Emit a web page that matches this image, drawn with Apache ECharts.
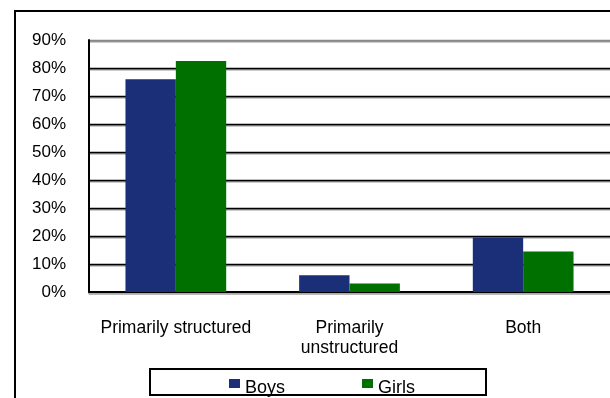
<!DOCTYPE html>
<html>
<head>
    <meta charset="utf-8">
    <title>Structured vs unstructured</title>
    <script src="https://cdn.jsdelivr.net/npm/echarts@6/dist/echarts.min.js"></script>
    <style>
        html, body { margin: 0; padding: 0; background: #fff; }
        #container { width: 610px; height: 398px; }
    </style>
</head>
<body>
<div id="container"></div>
<script>
    var categories = ['Primarily structured', 'Primarily\nunstructured', 'Both'];
    var boys = [76, 6, 19.5];
    var girls = [82.5, 3, 14.5];
    var yTicks = [0, 10, 20, 30, 40, 50, 60, 70, 80, 90];

    var font = '"Liberation Sans", Arial, sans-serif';
    // grid lines black, the top one grey
    var gridColors = yTicks.map(function (v, i) {
        return i === yTicks.length - 1 ? '#888888' : '#000000';
    });

    var myChart = echarts.init(document.getElementById('container'));
    var option = {
        animation: false,
        textStyle: { fontFamily: font, color: '#000' },
        graphic: [
            {
                type: 'rect',
                shape: { x: 15, y: 11, width: 700, height: 500 },
                style: { fill: 'none', stroke: '#000', lineWidth: 2 },
                silent: true
            },
            {
                type: 'rect',
                shape: { x: 150, y: 369, width: 336, height: 26 },
                style: { fill: 'none', stroke: '#000', lineWidth: 2 },
                silent: true
            }
        ],
        legend: {
            left: 229,
            top: 379,
            padding: 0,
            itemWidth: 11,
            itemHeight: 9,
            itemGap: 77,
            icon: 'rect',
            formatter: '{t|{name}}',
            textStyle: {
                fontFamily: font, fontSize: 18, color: '#000',
                rich: { t: { fontFamily: font, fontSize: 18, color: '#000', padding: [9, 0, 0, 0] } }
            },
            data: ['Boys', 'Girls']
        },
        grid: { left: 89, right: -2, top: 40, bottom: 106 },
        xAxis: {
            type: 'category',
            data: categories,
            axisLine: {
                lineStyle: { color: '#000', width: 2, shadowColor: '#aaa', shadowOffsetY: 1.5 }
            },
            axisTick: { show: false },
            axisLabel: {
                fontFamily: font, fontSize: 17.5, color: '#000',
                margin: 26, lineHeight: 20, interval: 0
            }
        },
        yAxis: {
            type: 'value',
            min: 0,
            max: 90,
            interval: 10,
            axisLine: { show: true, lineStyle: { color: '#000', width: 2 } },
            axisTick: { show: false },
            axisLabel: {
                fontFamily: font, fontSize: 17, color: '#000',
                margin: 23, formatter: '{value}%'
            },
            splitLine: {
                lineStyle: {
                    color: gridColors, width: 1.4,
                    shadowColor: '#999', shadowOffsetY: 1.2
                }
            }
        },
        series: [
            {
                name: 'Boys',
                type: 'bar',
                data: boys,
                barGap: '0%',
                barCategoryGap: '42%',
                itemStyle: { color: '#1a2f78' }
            },
            {
                name: 'Girls',
                type: 'bar',
                data: girls,
                itemStyle: { color: '#007100' }
            }
        ]
    };
    myChart.setOption(option);
</script>
</body>
</html>
